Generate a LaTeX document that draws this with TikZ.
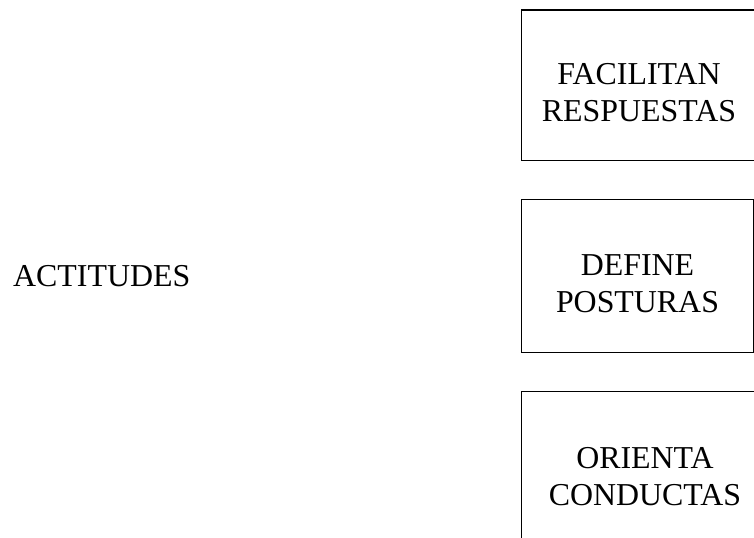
\documentclass[tikz,border=0pt]{standalone}
\usepackage{fontspec}
\setmainfont{Liberation Serif}
\begin{document}
\begin{tikzpicture}[x=1bp,y=-1bp,
  framebox/.style={draw,line width=1.2bp,inner sep=0pt,anchor=north west},
  boxtext/.style={align=center,inner sep=0pt,font=\fontsize{32}{37}\selectfont},
  lonetext/.style={inner sep=0pt,font=\fontsize{32}{37}\selectfont}]
\useasboundingbox (0,0) rectangle (754,538);
% boxes (box 1 and box 3 run past the right / bottom edge)
\node[framebox,minimum width=250bp,minimum height=150bp] (b1) at (520.5,9.5) {};
\node[framebox,minimum width=232bp,minimum height=153bp] (b2) at (520.5,199) {};
\node[framebox,minimum width=250bp,minimum height=170bp] (b3) at (521,391) {};
% texts
\node[boxtext] (t1) at (639,92.5) {FACILITAN\\RESPUESTAS};
\node[boxtext] (t2) at (637.5,283.5) {DEFINE\\POSTURAS};
\node[boxtext] (t3) at (645,476.5) {ORIENTA\\CONDUCTAS};
\node[lonetext,anchor=base west] (act) at (13,287) {ACTITUDES};
\end{tikzpicture}
\end{document}
